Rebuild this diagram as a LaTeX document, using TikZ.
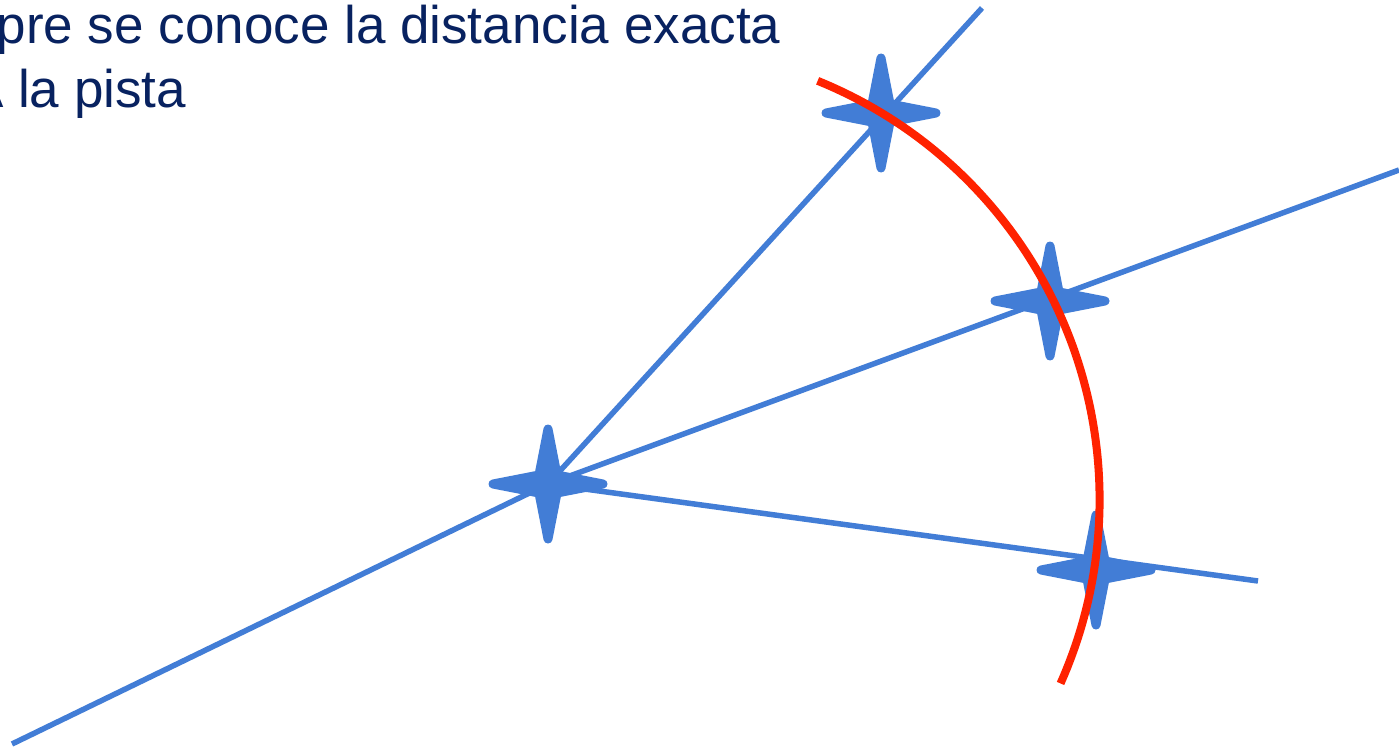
\documentclass[tikz,border=0pt]{standalone}
\usepackage{fontspec}
\setmainfont{Liberation Sans}
\definecolor{starblue}{RGB}{66,125,214}
\definecolor{arcred}{RGB}{255,34,0}
\definecolor{textnavy}{RGB}{8,34,96}
\newcommand\drawfourstar[1]{\path[starshape] (#1) ++(0,-55) -- ++(-9,46) -- ++(-46,9) -- ++(46,9) -- ++(9,46) -- ++(9,-46) -- ++(46,-9) -- ++(-46,-9) -- cycle;}
\begin{document}
\begin{tikzpicture}[x=1pt,y=-1pt,
  ray/.style={draw=starblue,line width=5.5pt},
  arcline/.style={draw=arcred,line width=8pt},
  starshape/.style={fill=starblue,draw=starblue,line width=9pt,line join=round},
  caption/.style={text=textnavy,font=\fontsize{53}{63}\selectfont,inner sep=0pt,anchor=base west}]
\useasboundingbox (0,0) rectangle (1399,749);
\clip (0,0) rectangle (1399,749);
\fill[white] (0,0) rectangle (1399,749);
% text
\node[caption] (line1) at (-3.5,44) {pre se conoce la distancia exacta};
\node[caption] (line2) at (-32,108) {A la pista};
% points
\coordinate (s1) at (548,484);
\coordinate (s2) at (881,113);
\coordinate (s3) at (1050,301);
\coordinate (s4) at (1096,570);
\coordinate (bl) at (12,744);
\coordinate (tA) at (982,8);
\coordinate (tB) at (1399,170);
\coordinate (tC) at (1258,581);
% rays
\draw[ray] (bl) -- (s1);
\draw[ray] (s1) -- (tA);
\draw[ray] (s1) -- (tB);
\draw[ray] (s1) -- (tC);
% stars
\drawfourstar{s1}
\drawfourstar{s2}
\drawfourstar{s3}
\drawfourstar{s4}
% red arc
\draw[arcline] plot[domain=-67.9:24,samples=80,smooth] ({647.6+452*cos(\x)},{499.6+452*sin(\x)});
\end{tikzpicture}
\end{document}
